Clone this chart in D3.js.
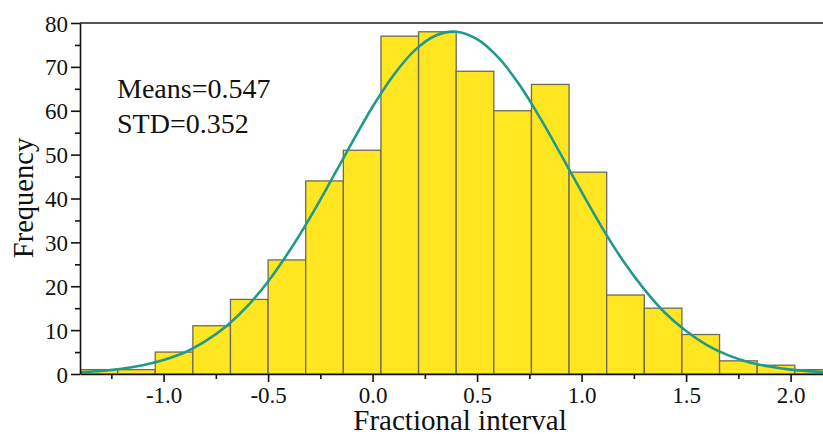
<!DOCTYPE html>
<html lang="en">
<head>
  <meta charset="utf-8">
  <title>Fractional interval histogram</title>
  <script src="https://cdn.jsdelivr.net/npm/d3@7"></script>
  <style>
    body { margin: 0; background: #fff; }
    svg text { font-family: "Liberation Serif", "Times New Roman", serif; fill: #111; }
  </style>
</head>
<body>
  <div class="chart"></div>
  <script>
    var w = 823,
      h = 434;

    // bin edges (left) and counts
    var binStart = [-1.40, -1.22, -1.04, -0.86, -0.68, -0.50, -0.32, -0.14, 0.04, 0.22,
      0.40, 0.58, 0.76, 0.94, 1.12, 1.30, 1.48, 1.66, 1.84, 2.02];
    var binWidth = 0.18;
    var counts = [1, 1, 5, 11, 17, 26, 44, 51, 77, 78, 69, 60, 66, 46, 18, 15, 9, 3, 2, 1];

    // fitted normal curve, estimated points
    var curveX = [-1.4, -1.3, -1.2, -1.1, -1.0, -0.9, -0.8, -0.7, -0.6, -0.5, -0.4, -0.3, -0.2, -0.1,
      0.0, 0.1, 0.2, 0.3, 0.4, 0.5, 0.6, 0.7, 0.8, 0.9, 1.0, 1.1, 1.2, 1.3, 1.4, 1.5, 1.6, 1.7,
      1.8, 1.9, 2.0, 2.1, 2.2];
    var curveY = [0.4, 0.7, 1.2, 2.0, 3.2, 4.9, 7.5, 10.9, 15.4, 21.1, 27.9, 35.6, 44.0, 52.6,
      60.9, 68.1, 73.7, 77.1, 78.0, 76.3, 72.2, 66.1, 58.5, 50.1, 41.5, 33.2, 25.7, 19.3, 13.9,
      9.8, 6.6, 4.3, 2.7, 1.7, 1.0, 0.6, 0.3];

    var xTicks = [-1.0, -0.5, 0.0, 0.5, 1.0, 1.5, 2.0];
    var xMinor = [-1.25, -0.75, -0.25, 0.25, 0.75, 1.25, 1.75];
    var yTicks = [0, 10, 20, 30, 40, 50, 60, 70, 80];
    var yMinor = [5, 15, 25, 35, 45, 55, 65, 75];
    var notes = ["Means=0.547", "STD=0.352"];

    var m = { l: 80, r: 823, t: 23, b: 374 };

    var x = d3.scaleLinear().domain([-1.4, 2.155]).range([m.l, m.r]);
    var y = d3.scaleLinear().domain([0, 80]).range([m.b, m.t]);

    var svg = d3.select('.chart')
      .append('svg')
      .attr('width', w)
      .attr('height', h);

    svg.append('clipPath').attr('id', 'plot')
      .append('rect')
      .attr('x', m.l).attr('y', m.t - 5)
      .attr('width', m.r - m.l).attr('height', m.b - m.t + 5);

    var plot = svg.append('g').attr('clip-path', 'url(#plot)');

    plot.selectAll('rect.bar')
      .data(counts)
      .enter()
      .append('rect')
      .attr('class', 'bar')
      .attr('x', function(d, i) { return x(binStart[i]); })
      .attr('y', function(d) { return y(d); })
      .attr('width', function(d, i) { return x(binStart[i] + binWidth) - x(binStart[i]); })
      .attr('height', function(d) { return y(0) - y(d); })
      .style('fill', '#ffe620')
      .style('stroke', '#6b6b5a')
      .style('stroke-width', 1.3);

    var line = d3.line()
      .x(function(d, i) { return x(curveX[i]); })
      .y(function(d) { return y(d); })
      .curve(d3.curveCatmullRom);

    plot.append('path')
      .datum(curveY)
      .attr('d', line)
      .style('fill', 'none')
      .style('stroke', '#1f9a8b')
      .style('stroke-width', 2.6);

    // top frame line
    svg.append('line')
      .attr('x1', m.l).attr('x2', m.r)
      .attr('y1', m.t).attr('y2', m.t)
      .style('stroke', '#555')
      .style('stroke-width', 2);

    // y axis
    var yAxis = svg.append('g').attr('transform', 'translate(' + m.l + ',0)')
      .call(d3.axisLeft(y).tickValues(yTicks).tickFormat(d3.format('d')).tickSize(9).tickSizeOuter(0));
    svg.append('g').attr('transform', 'translate(' + m.l + ',0)')
      .call(d3.axisLeft(y).tickValues(yMinor).tickFormat('').tickSize(5).tickSizeOuter(0))
      .select('.domain').remove();

    // x axis
    var xAxis = svg.append('g').attr('transform', 'translate(0,' + m.b + ')')
      .call(d3.axisBottom(x).tickValues(xTicks).tickFormat(d3.format('.1f')).tickSize(8).tickSizeOuter(0));
    svg.append('g').attr('transform', 'translate(0,' + m.b + ')')
      .call(d3.axisBottom(x).tickValues(xMinor).tickFormat('').tickSize(5).tickSizeOuter(0))
      .select('.domain').remove();

    svg.selectAll('.domain, .tick line')
      .style('stroke', '#111')
      .style('stroke-width', 1.6);

    yAxis.selectAll('.tick text')
      .attr('x', -12)
      .attr('dy', '0.35em')
      .style('font-size', '23px');
    xAxis.selectAll('.tick text')
      .attr('y', 12)
      .attr('dy', '0.75em')
      .style('font-size', '23px')
      .text(function(d) { return d3.format('.1f')(d).replace('\u2212', '-'); });

    svg.append('text')
      .attr('x', 460).attr('y', 430)
      .attr('text-anchor', 'middle')
      .style('font-size', '29px')
      .text('Fractional interval');

    svg.append('text')
      .attr('transform', 'translate(33,198) rotate(-90)')
      .attr('text-anchor', 'middle')
      .style('font-size', '28.5px')
      .text('Frequency');

    svg.selectAll('text.note')
      .data(notes)
      .enter()
      .append('text')
      .attr('class', 'note')
      .attr('x', 117)
      .attr('y', function(d, i) { return 98 + i * 35; })
      .style('font-size', '28px')
      .text(function(d) { return d; });
  </script>
</body>
</html>
